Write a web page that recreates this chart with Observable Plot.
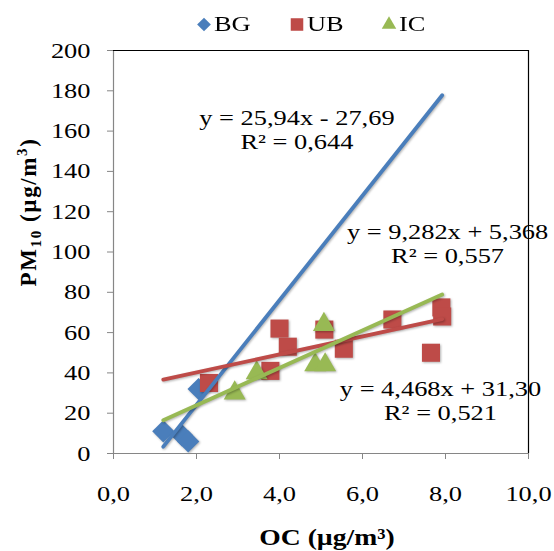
<!DOCTYPE html>
<html><head><meta charset="utf-8">
<script src="https://cdn.jsdelivr.net/npm/d3@7"></script>
<script src="https://cdn.jsdelivr.net/npm/@observablehq/plot@0.6"></script>
<style>
body{margin:0;background:#fff;}
#wrap{position:relative;width:554px;height:551px;font-family:"Liberation Serif","Times New Roman",serif;}
#legend{position:absolute;top:12px;left:196px;display:flex;align-items:center;font-size:22px;color:#000;line-height:24px;}
#legend .item{display:flex;align-items:center;margin-right:44px;}
#legend span{display:inline-block;transform:scaleX(1.2);transform-origin:left center;}
#legend svg{margin-right:2px;}
</style></head><body><div id="wrap"><div id="legend"></div></div>
<script>
// ---- data ----
const seriesNames = ["BG", "UB", "IC"];
const seriesColors = ["#4A7EBB", "#BE4B48", "#98B954"];
const seriesSymbols = ["diamond2", "square2", "triangle2"];

const bgX = [1.2, 1.65, 1.8, 2.05];
const bgY = [11, 9, 6, 32];
const ubX = [2.3, 3.78, 4.0, 4.2, 5.08, 5.55, 6.72, 7.65, 7.9, 7.92];
const ubY = [35, 41, 62, 53, 61.5, 52, 66.5, 50, 72.5, 68];
const icX = [2.92, 3.45, 4.86, 5.1, 5.07];
const icY = [30, 40, 44, 44, 64];

// trend line end points (BG, UB, IC)
const trendX0 = [1.2, 1.2, 1.2];
const trendY0 = [3.4, 36.7, 16.5];
const trendX1 = [7.92, 7.92, 7.92];
const trendY1 = [177.8, 66.7, 78.9];

// equation labels (BG, UB, IC)
const eqText = ["y = 25,94x - 27,69", "y = 4,468x + 31,30", "y = 9,282x + 5,368"];
const r2Text = ["R² = 0,644", "R² = 0,521", "R² = 0,557"];
const eqX = [4.42, 7.88, 8.05];
const eqY = [166.7, 32.1, 109.8];
const r2Y = [154.8, 20.2, 97.9];

const xTicks = [0, 2, 4, 6, 8, 10];
const yTicks = [0, 20, 40, 60, 80, 100, 120, 140, 160, 180, 200];
const xTitle = "OC (µg/m³)";

// ---- build tables ----
const xs = [bgX, ubX, icX], ysv = [bgY, ubY, icY];
const points = [];
seriesNames.forEach((s, i) => xs[i].forEach((x, j) => points.push({series: s, x, y: ysv[i][j]})));
const trends = seriesNames.map((s, i) => ({series: s, x1: trendX0[i], y1: trendY0[i], x2: trendX1[i], y2: trendY1[i]}));
const eqs = seriesNames.map((s, i) => ({series: s, x: eqX[i], y: eqY[i], t: eqText[i]}));
const r2s = seriesNames.map((s, i) => ({series: s, x: eqX[i], y: r2Y[i], t: r2Text[i]}));
const rSize = {BG: 10, UB: 11.5, IC: 10.5};
const colorOf = Object.fromEntries(seriesNames.map((s, i) => [s, seriesColors[i]]));
const symOf = Object.fromEntries(seriesNames.map((s, i) => [s, seriesSymbols[i]]));

const plot = Plot.plot({
  width: 554, height: 551,
  marginLeft: 113, marginRight: 26, marginTop: 50, marginBottom: 98,
  style: {fontFamily: '"Liberation Serif","Times New Roman",serif', fontSize: "22px", background: "transparent", overflow: "visible"},
  x: {domain: [0, 10], axis: null},
  y: {domain: [0, 200], axis: null},
  marks: [
    Plot.axisY({ticks: yTicks, tickSize: 6, tickPadding: 17, stroke: "#868686", fill: "#000", fontSize: 22, label: null, tickFormat: d => String(d)}),
    Plot.axisX({ticks: xTicks, tickSize: 6, tickPadding: 26, stroke: "#868686", fill: "#000", fontSize: 22, label: null, tickFormat: d => d.toFixed(1).replace(".", ",")}),
    ...seriesNames.map(s => Plot.dot(points.filter(p => p.series === s), {x: "x", y: "y", symbol: () => symOf[s], r: rSize[s], fill: colorOf[s], stroke: "none"})),
    ...seriesNames.map(s => Plot.link(trends.filter(t => t.series === s), {x1: "x1", y1: "y1", x2: "x2", y2: "y2", stroke: colorOf[s], strokeWidth: 3.8, strokeLinecap: "round"})),
    Plot.text(eqs, {x: "x", y: "y", text: "t", textAnchor: "middle", fontSize: 22, fill: "#000"}),
    Plot.text(r2s, {x: "x", y: "y", text: "t", textAnchor: "middle", fontSize: 22, fill: "#000"}),
    Plot.ruleX([0], {stroke: "#868686", strokeWidth: 1.2}),
    Plot.ruleY([0], {stroke: "#868686", strokeWidth: 1.2}),
    Plot.ruleX([10], {stroke: "#000", strokeWidth: 1.2}),
    Plot.ruleY([200], {stroke: "#000", strokeWidth: 1.2})
  ]
});
const svg = d3.select(plot);
svg.selectAll('g[aria-label="dot"], g[aria-label="link"]').style("filter", "drop-shadow(1.5px 1.5px 1.2px rgba(0,0,0,0.3))");

// x title
svg.append("text").attr("class", "ttl").attr("x", 327).attr("y", 545).attr("text-anchor", "middle")
  .attr("font-weight", "bold").attr("font-size", 23).text(xTitle);
// y title with subscript / superscript
const yt = svg.append("text").attr("transform", "translate(36,212) rotate(-90)")
  .attr("text-anchor", "middle").attr("font-weight", "bold").attr("font-size", 23).style("letter-spacing", "1.6px");
yt.append("tspan").text("PM");
yt.append("tspan").attr("font-size", 15).attr("dy", 5).text("10");
yt.append("tspan").attr("dy", -5).text(" (µg/m");
yt.append("tspan").attr("font-size", 15).attr("dy", -9).text("3");
yt.append("tspan").attr("dy", 9).text(")");

document.getElementById("wrap").appendChild(plot);

// widen glyphs horizontally like the reference's rendering
svg.selectAll("text").each(function() {
  if (this.querySelector("tspan")) return;
  const len = this.getComputedTextLength();
  if (len > 0) {
    this.setAttribute("textLength", (len * 1.2).toFixed(1));
    this.setAttribute("lengthAdjust", "spacingAndGlyphs");
  }
});

// legend
const legend = d3.select("#legend");
seriesNames.forEach((s, i) => {
  const it = legend.append("div").attr("class", "item");
  const sv = it.append("svg").attr("width", 16).attr("height", 16);
  const path = d3.symbol(i === 0 ? d3.symbolDiamond2 : i === 1 ? d3.symbolSquare2 : d3.symbolTriangle2, i === 0 ? 120 : i === 1 ? 200 : 150)();
  sv.append("path").attr("d", path).attr("transform", "translate(8,8.5)").attr("fill", seriesColors[i]);
  it.append("span").text(s);
});
</script></body></html>
